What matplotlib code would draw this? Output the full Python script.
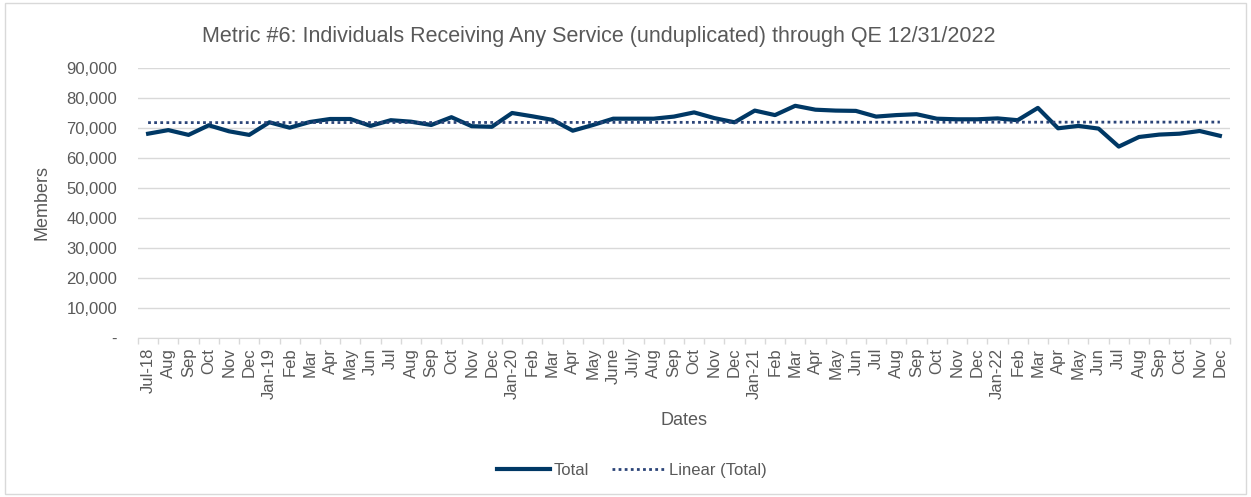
import numpy as np
import matplotlib
matplotlib.use("Agg")
import matplotlib.pyplot as plt
from matplotlib.patches import Rectangle
from matplotlib.ticker import FuncFormatter, FixedLocator

plt.rcParams["font.family"] = ["Liberation Sans", "DejaVu Sans"]

months = ["Jul-18", "Aug", "Sep", "Oct", "Nov", "Dec",
          "Jan-19", "Feb", "Mar", "Apr", "May", "Jun", "Jul", "Aug", "Sep", "Oct", "Nov", "Dec",
          "Jan-20", "Feb", "Mar", "Apr", "May", "June", "July", "Aug", "Sep", "Oct", "Nov", "Dec",
          "Jan-21", "Feb", "Mar", "Apr", "May", "Jun", "Jul", "Aug", "Sep", "Oct", "Nov", "Dec",
          "Jan-22", "Feb", "Mar", "Apr", "May", "Jun", "Jul", "Aug", "Sep", "Oct", "Nov", "Dec"]

totals = [68100, 69300, 67700, 70900, 68900, 67700,
          71900, 70100, 72000, 73000, 73000, 70700, 72600, 72100, 71000, 73600, 70600, 70400,
          75000, 73900, 72700, 69100, 71000, 73100, 73100, 73100, 73800, 75200, 73300, 71900,
          75800, 74300, 77400, 76100, 75800, 75700, 73800, 74300, 74600, 73100, 72900, 72900,
          73200, 72600, 76700, 69900, 70700, 69800, 63800, 67000, 67800, 68100, 69000, 67400]

TEXT = "#595959"
GRID = "#D9D9D9"

fig = plt.figure(figsize=(12.51, 4.97), dpi=100)
fig.patches.append(Rectangle((0.004, 0.006), 0.992, 0.988, transform=fig.transFigure,
                             fill=False, edgecolor=GRID, linewidth=1))
ax = fig.add_axes([0.1103, 0.3199, 0.8729, 0.5433])

x = np.arange(len(totals))
ax.plot(x, totals, color="#003865", linewidth=3, solid_joinstyle="round", label="Total", zorder=3)

# Excel-style linear trendline fitted to the series
slope, intercept = np.polyfit(x, totals, 1)
ax.plot(x, slope * x + intercept, color="#2B4478", linewidth=2,
        linestyle=(0, (1, 1.2)), label="Linear (Total)", zorder=4)

ax.set_xlim(-0.5, len(totals) - 0.5)
ax.set_ylim(0, 90000)
ax.set_yticks(np.arange(0, 90001, 10000))
ax.yaxis.set_major_formatter(FuncFormatter(lambda v, p: "-" if v == 0 else f"{int(v):,}"))
ax.grid(axis="y", color=GRID, linewidth=1)
ax.set_axisbelow(True)

ax.set_xticks(x)
ax.set_xticklabels(months, rotation=90, ha="center", va="top")
ax.xaxis.set_minor_locator(FixedLocator(np.arange(-0.5, len(totals), 1)))
ax.tick_params(axis="x", which="major", length=0, pad=7, labelsize=12, labelcolor=TEXT)
ax.tick_params(axis="x", which="minor", length=4, width=1, color=GRID, direction="out")
ax.tick_params(axis="y", length=0, pad=15, labelsize=12, labelcolor=TEXT)

for side in ["top", "right", "left"]:
    ax.spines[side].set_visible(False)
ax.spines["bottom"].set_color(GRID)

ax.set_xlabel("Dates", fontsize=13, color=TEXT)
ax.xaxis.set_label_coords(0.5, -0.275)
ax.set_ylabel("Members", fontsize=13, color=TEXT)
ax.yaxis.set_label_coords(-0.08, 0.5)

fig.text(0.479, 0.926, "Metric #6: Individuals Receiving Any Service (unduplicated) through QE 12/31/2022",
         ha="center", va="center", fontsize=15.5, color=TEXT)

fig.legend(loc="center", bbox_to_anchor=(0.505, 0.054), ncol=2, frameon=False,
           fontsize=12, labelcolor=TEXT, handlelength=3.2, handletextpad=0.2,
           columnspacing=1.4)

fig.savefig("out.png", dpi=100)
